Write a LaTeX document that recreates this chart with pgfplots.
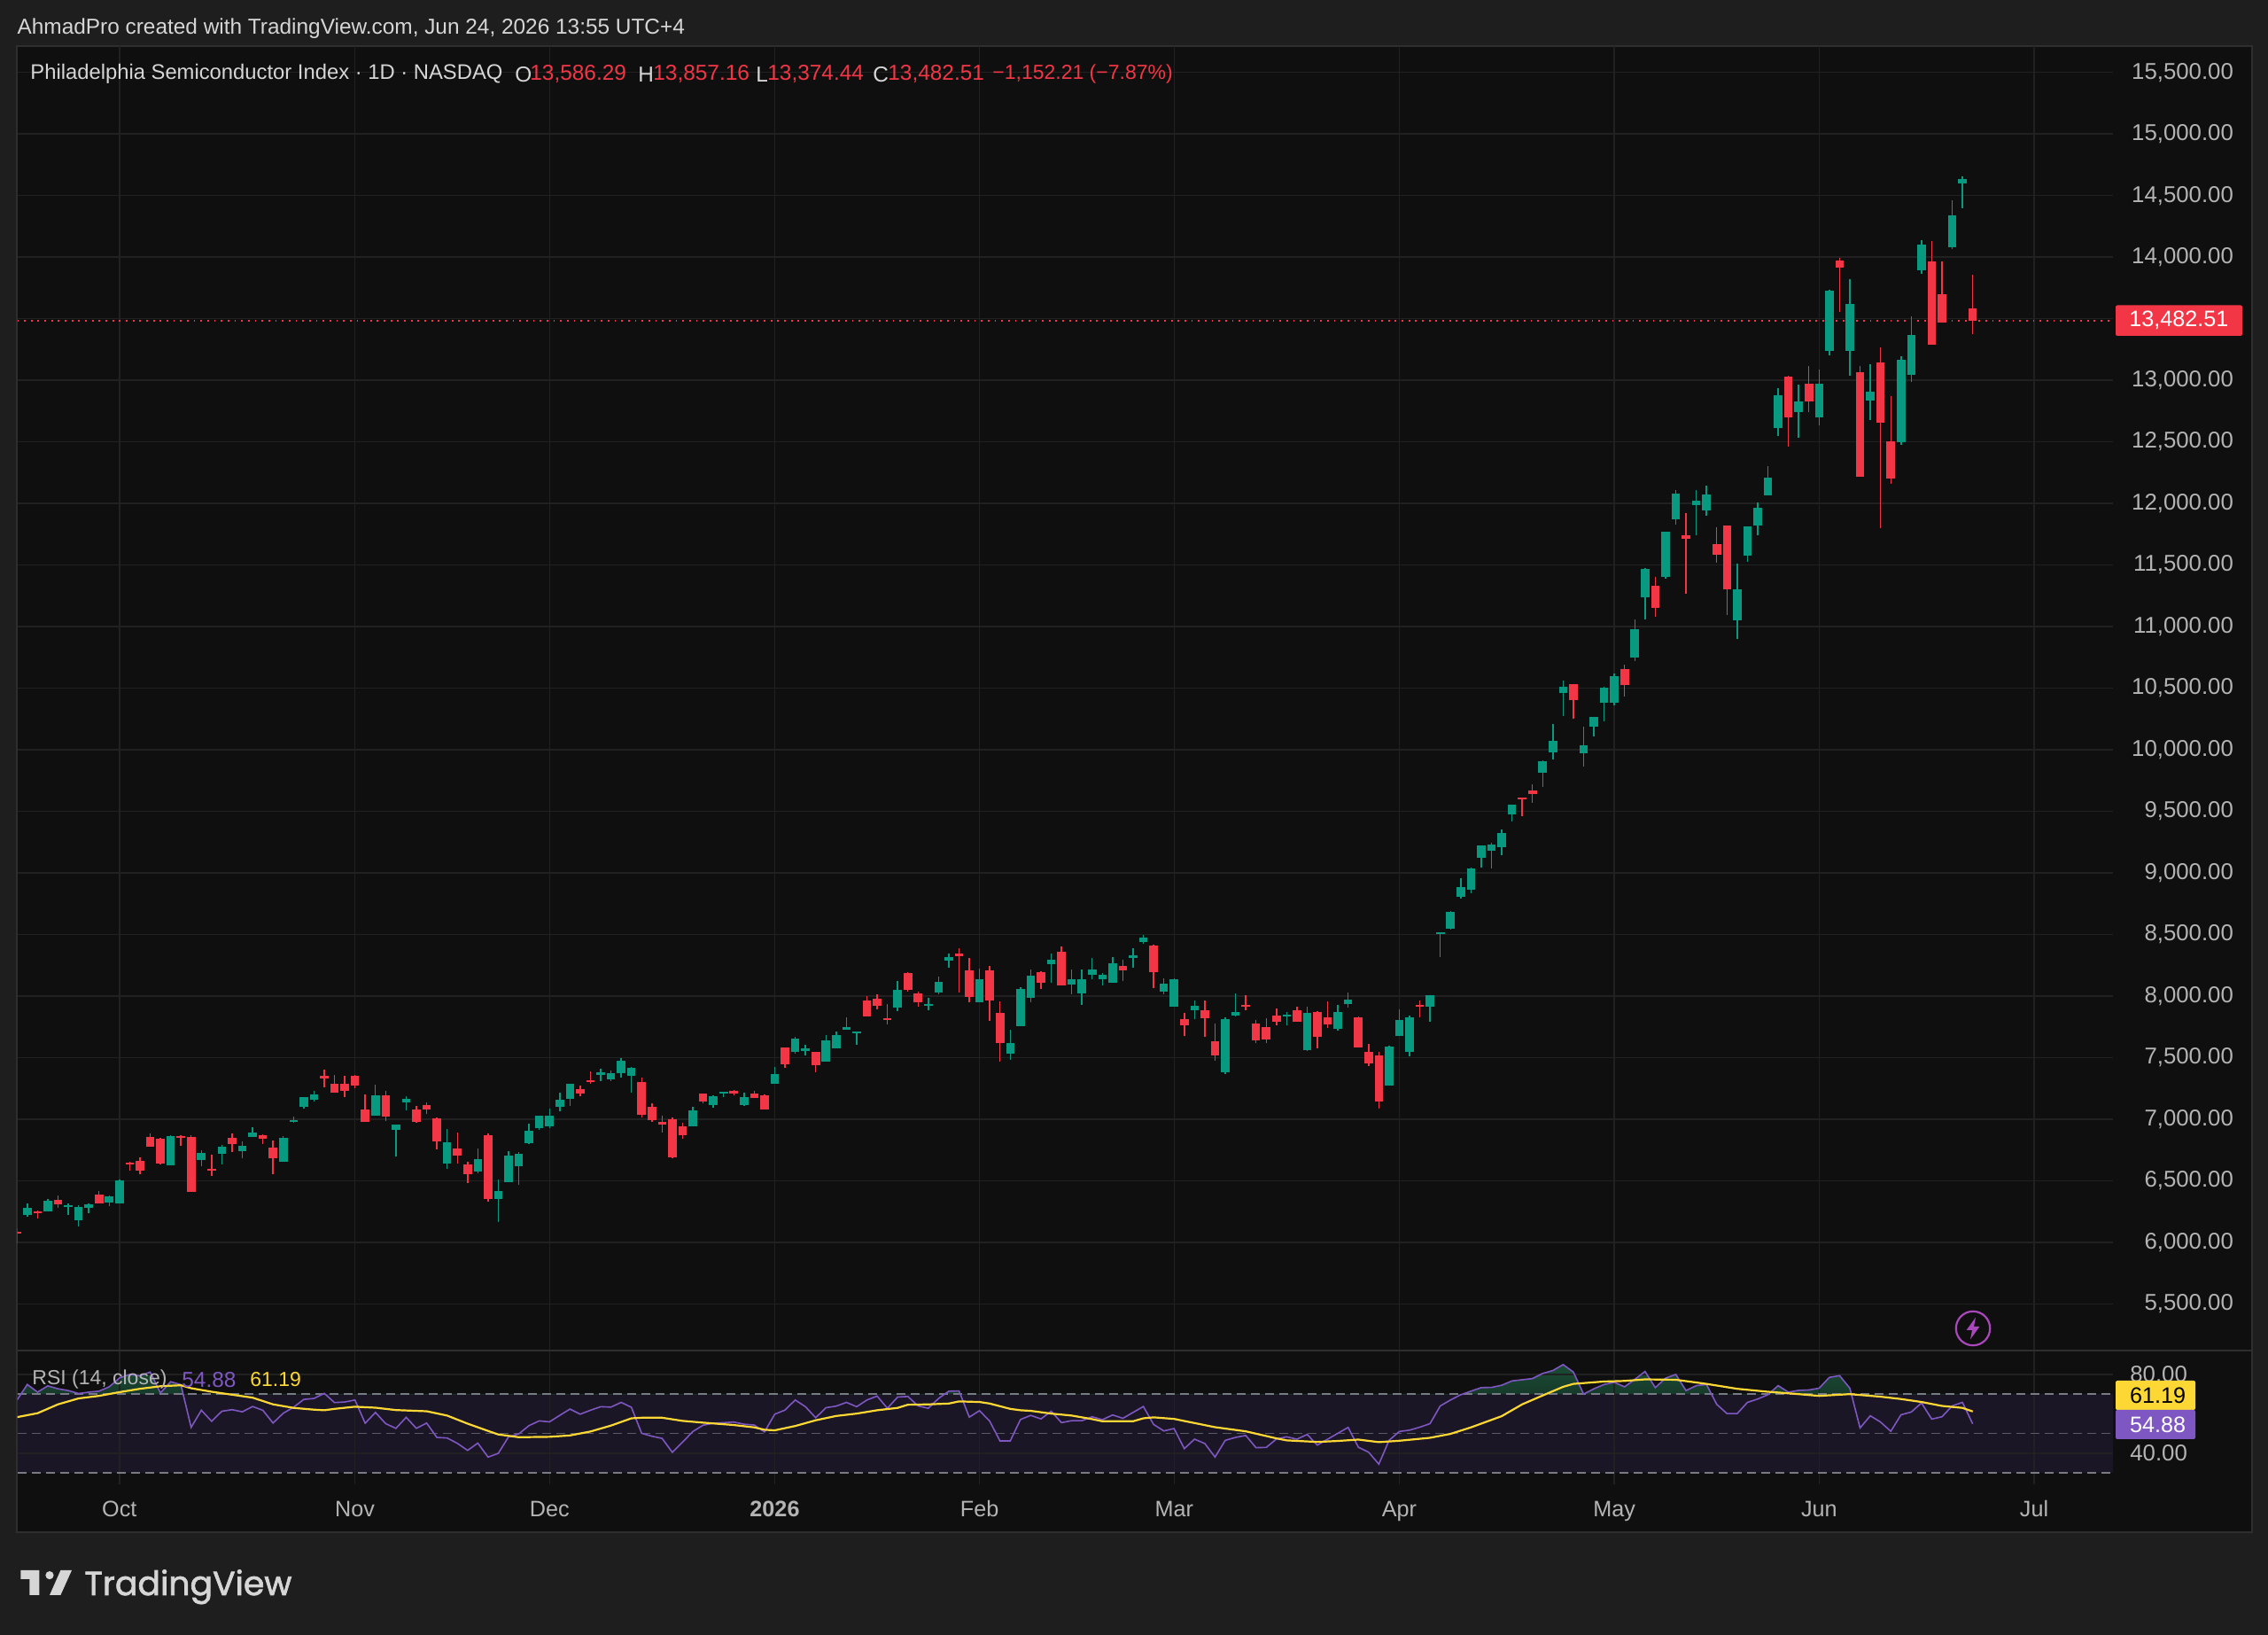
\documentclass[border=0pt]{standalone}
\usepackage{pgfplots}
\usepackage{fontspec}
\pgfplotsset{compat=1.18}
\usepackage{pgfplotstable}
\setmainfont{Liberation Sans}
\newfontfamily\logofont[FakeBold=1.8]{Poppins}
\definecolor{pagebg}{HTML}{1E1E1E}
\definecolor{panelbg}{HTML}{0F0F0F}
\definecolor{gridc}{HTML}{212121}
\definecolor{borderc}{HTML}{2E2E2E}
\definecolor{tvgreen}{HTML}{089981}
\definecolor{tvred}{HTML}{F23645}
\definecolor{rsip}{HTML}{7E57C2}
\definecolor{rsiy}{HTML}{FDD835}
\definecolor{bandc}{HTML}{1A1625}
\definecolor{dashc}{HTML}{787B86}
\definecolor{labc}{HTML}{B4B4B4}
\definecolor{headc}{HTML}{D6D6D6}
\definecolor{boltc}{HTML}{AB47BC}
\definecolor{obtop}{HTML}{1A4C35}
\pgfplotstableread{
x l b t h
1 6210 6222 6282 6318
3 6250 6250 6337 6349
5 6222 6284 6301 6318
6 6130 6181 6289 6301
7 6234 6277 6308 6318
9 6296 6325 6370 6378
10 6318 6318 6502 6507
15 6625 6625 6865 6869
18 6618 6666 6726 6745
20 6636 6721 6774 6788
22 6680 6743 6781 6817
23 6858 6858 6894 6937
26 6651 6651 6850 6862
27 6973 6978 6992 7023
28 7088 7102 7177 7182
29 7145 7155 7198 7232
35 7025 7025 7196 7280
37 6694 6915 6954 6954
38 7074 7138 7162 7184
42 6596 6637 6814 6920
45 6562 6572 6678 6762
47 6166 6354 6414 6510
48 6486 6490 6706 6738
49 6464 6618 6718 6733
50 6795 6805 6906 6961
51 6915 6927 7030 7030
52 6930 6941 7025 7083
53 7066 7100 7158 7217
54 7110 7165 7285 7285
57 7309 7362 7378 7412
58 7309 7323 7376 7393
59 7338 7373 7472 7496
60 7213 7352 7419 7424
66 6942 6942 7069 7100
68 7095 7114 7189 7191
69 7179 7208 7220 7220
71 7110 7117 7182 7213
74 7290 7290 7369 7424
76 7532 7546 7654 7666
77 7520 7551 7578 7606
79 7470 7470 7640 7681
80 7573 7573 7681 7710
81 7724 7724 7750 7827
82 7606 7700 7710 7710
86 7878 7905 8047 8119
89 7883 7924 7938 7984
90 8015 8030 8116 8160
91 8232 8287 8314 8347
94 7953 7953 8138 8220
97 7482 7530 7616 7729
98 7758 7758 8054 8073
99 7953 7987 8165 8215
101 8107 8258 8297 8347
103 8015 8092 8138 8215
104 7931 8023 8138 8215
105 8138 8169 8215 8306
106 8085 8133 8172 8186
107 8107 8107 8263 8314
109 8230 8312 8334 8386
110 8425 8437 8473 8499
112 8014 8034 8103 8144
113 7916 7916 8139 8144
115 7810 7887 7918 7966
118 7369 7383 7810 7825
119 7834 7839 7868 8019
124 7762 7834 7846 7868
126 7551 7558 7866 7914
129 7717 7731 7873 7930
130 7904 7933 7969 8026
134 7273 7273 7587 7597
135 7674 7674 7803 7894
136 7508 7544 7830 7844
138 7791 7911 8005 8005
139 8320 8500 8517 8517
140 8543 8548 8687 8692
141 8793 8808 8887 8957
142 8834 8863 9034 9041
143 9041 9125 9221 9221
144 9036 9180 9233 9248
145 9144 9209 9324 9353
146 9416 9474 9553 9553
149 9695 9813 9909 9914
150 9923 9981 10075 10207
151 10272 10459 10512 10563
153 9861 9974 10034 10188
154 10111 10188 10267 10267
155 10231 10385 10505 10510
156 10361 10382 10596 10620
158 10721 10750 10978 11055
159 11060 11236 11471 11478
161 11389 11401 11774 11774
162 11827 11868 12079 12111
164 11743 11984 12020 12111
165 11897 11945 12074 12142
168 10897 11048 11303 11514
169 11526 11577 11812 11817
170 11743 11820 11964 12005
171 12063 12063 12207 12303
172 12549 12609 12878 12933
174 12535 12741 12828 12962
176 12631 12700 12969 13084
177 13204 13240 13725 13732
179 13039 13240 13619 13821
181 12679 12832 12907 13128
184 12477 12499 13168 13197
185 12986 13046 13370 13519
186 13864 13893 14099 14135
189 14068 14080 14341 14459
190 14397 14600 14634 14653
}\upt
\pgfplotstableread{
x l b t h
0 5989 6072 6085 6114
2 6193 6238 6253 6255
4 6282 6310 6344 6378
8 6318 6318 6385 6414
11 6582 6632 6644 6651
12 6553 6582 6661 6690
13 6776 6776 6855 6884
14 6630 6637 6843 6850
16 6785 6848 6860 6869
17 6409 6409 6857 6869
19 6541 6579 6594 6709
21 6733 6798 6848 6884
24 6798 6838 6869 6877
25 6553 6680 6766 6824
30 7261 7333 7350 7400
31 7213 7213 7285 7357
32 7179 7227 7285 7350
33 7254 7270 7350 7357
34 6977 6977 7076 7198
36 6985 7018 7196 7232
39 6973 6977 7076 7105
40 7040 7081 7112 7134
41 6757 6817 7009 7016
43 6637 6706 6762 6891
44 6483 6553 6630 6656
46 6332 6349 6872 6884
55 7184 7210 7246 7270
56 7290 7304 7318 7386
61 7011 7033 7302 7338
62 6978 6992 7100 7129
63 6894 6958 6980 7026
64 6685 6692 6997 7011
65 6838 6867 6939 6973
67 7129 7143 7208 7208
70 7191 7206 7232 7239
72 7172 7172 7210 7232
73 7081 7081 7191 7198
75 7419 7448 7580 7585
78 7381 7436 7549 7549
83 7835 7835 7965 7999
84 7890 7924 7977 8013
85 7773 7809 7821 7936
87 8035 8049 8186 8191
88 7912 7953 8025 8035
92 8030 8323 8347 8388
93 7953 7994 8205 8311
95 7799 7967 8208 8242
96 7467 7621 7866 7958
100 8056 8107 8191 8201
102 8085 8085 8359 8400
108 8125 8209 8247 8298
111 8065 8194 8408 8420
114 7674 7765 7810 7861
116 7666 7820 7882 7966
117 7474 7515 7630 7777
120 7882 7916 7930 8005
121 7618 7640 7774 7803
122 7618 7645 7748 7818
123 7765 7791 7844 7902
125 7791 7791 7887 7916
127 7575 7669 7868 7880
128 7738 7772 7825 7959
131 7585 7585 7825 7832
132 7431 7453 7549 7609
133 7086 7143 7520 7549
137 7827 7916 7930 7964
147 9459 9599 9611 9611
148 9570 9640 9671 9721
152 10250 10404 10534 10534
157 10430 10529 10656 10688
160 11077 11154 11332 11401
163 11264 11714 11743 11921
166 11519 11584 11671 11810
167 11096 11300 11824 11824
173 12458 12700 13029 13036
175 12741 12825 12974 13113
178 13552 13914 13972 13994
180 12213 12213 13065 13113
182 11801 12652 13142 13267
183 12161 12202 12504 12873
187 13288 13288 13965 14133
188 13468 13468 13696 13967
191 13374.44 13482.51 13586.29 13857.16
}\dnt
\pgfplotstableread{
x y
0 67.0
1 74.9
2 71.0
3 74.2
4 72.7
5 71.8
6 70.3
7 71
8 71.5
9 73.7
10 78.2
11 80
12 79.3
13 81.2
14 70.6
15 76.3
16 74.8
17 53.1
18 61.8
19 56.2
20 61.3
21 62.1
22 61
23 63.7
24 61.8
25 55.3
26 60.3
27 63.3
28 67.3
29 67.8
30 70.4
31 65.7
32 66
33 67
34 55.2
35 60.7
36 55
37 52.6
38 58.2
39 52.6
40 55.3
41 48
42 47.7
43 45
44 41.4
45 45.1
46 38
47 39.9
48 48.3
49 49.8
50 54
51 56.4
52 55.9
53 59.2
54 62.4
55 59.8
56 61.8
57 63.6
58 63.4
59 65.8
60 63.3
61 50.1
62 48.6
63 47.5
64 40.4
65 45.6
66 51
67 54.2
68 55.2
69 55.5
70 55.8
71 54.7
72 54.3
73 50.8
74 59.8
75 61.9
76 67
77 63.6
78 58
79 63.1
80 63.9
81 65.8
82 63.6
83 67
84 69
85 62.8
86 68.5
87 68.8
88 64
89 62.8
90 67.8
91 71.5
92 71.6
93 58.3
94 61.6
95 56.2
96 46.2
97 46.2
98 57.1
99 59.2
100 57.4
101 61.3
102 55.5
103 56.5
104 56.5
105 58.5
106 57
107 59.4
108 57.7
109 60.7
110 63.7
111 54.6
112 51.3
113 52.5
114 42.3
115 47.1
116 44.9
117 38
118 46.5
119 48
120 49
121 42.8
122 42.9
123 47.2
124 48.3
125 47.1
126 49.5
127 44.1
128 47.1
129 50.1
130 53.1
131 43
132 40.5
133 34.4
134 46.5
135 51
136 51.7
137 53.2
138 55
139 64
140 67
141 69.7
142 71.5
143 73.3
144 73.4
145 74.5
146 76.7
147 77.3
148 77.9
149 80.5
150 82
151 85
152 81.2
153 70
154 72.7
155 74.9
156 76
157 73.7
158 77.5
159 81.5
160 73.3
161 78.1
162 80
163 71.8
164 74.3
165 74.9
166 64.8
167 60.1
168 60.1
169 65.8
170 67.5
171 69.7
172 74.3
173 71
174 71.9
175 72.1
176 73
177 78.5
178 79.4
179 73
180 52.8
181 59
182 55.8
183 51.1
184 59.5
185 60.9
186 65.5
187 57.3
188 58.5
189 64
190 65.8
191 54.88
}\rsit
\pgfplotstableread{
x y
0 58.3
2 60.3
4 64.8
6 67.8
8 69.1
10 71
12 72.7
14 74
16 74.5
17 73
19 71.2
21 69.7
23 68.2
25 64.8
27 63
29 62.1
30 61.8
31 62.5
33 63.6
35 63.1
37 61.9
40 61.3
42 59.1
44 55
46 51.3
47 49.5
49 48.1
52 48.3
54 49
56 51
58 54
60 57.7
61 58
63 58
65 56.4
67 55.5
70 54.3
72 53.1
73 51.9
74 51.6
76 53.8
78 56.7
80 58.9
82 60.1
84 61.8
86 63
87 64.6
89 64.8
91 65.2
92 66.3
94 66
95 65.2
97 62.5
98 61.8
99 61.5
101 60.1
103 59.1
105 57.3
106 56.2
109 56.2
110 57.7
111 58.2
113 57.4
115 55.3
117 53.2
120 51.1
123 47.5
124 46.5
127 45.7
129 46.2
131 46.9
133 45.6
135 46.3
138 47.8
140 49.8
142 53.1
145 58.8
147 64.8
149 69.3
151 73.7
152 75.2
155 76.4
157 76.7
159 77.5
162 77.3
165 75.2
168 72.7
171 71.2
174 70
176 69.1
179 70
182 68.7
184 67.5
186 66
188 64
190 63
191 61.19
}\mat
\newcommand{\candles}[2]{%
 \addplot[draw=none,no markers,forget plot,error bars/.cd,y dir=plus,y explicit,error mark=none,error bar style={solid,line width=.72pt,draw=#2}]
  table[x=x,y=l,y error plus expr=\thisrow{h}-\thisrow{l}]{#1};
 \addplot[draw=none,no markers,forget plot,error bars/.cd,y dir=plus,y explicit,error mark=none,error bar style={solid,line width=4.8pt,draw=#2}]
  table[x=x,y=b,y error plus expr=\thisrow{t}-\thisrow{b}]{#1};
}
\begin{document}
\begin{tikzpicture}
\fill[pagebg] (0,0) rectangle (1280pt,922.5pt);
\useasboundingbox (0,0) rectangle (1280pt,922.5pt);
\fill[panelbg] (9.5pt,58pt) rectangle (1271pt,896.5pt);
\draw[borderc,line width=.8pt] (9.5pt,58pt) rectangle (1271pt,896.5pt);
\fill[bandc] (9.75pt,91.5pt) rectangle (1192.5pt,135.85pt);
\begin{axis}[name=main,at={(9.75pt,160.5pt)},anchor=south west,scale only axis,
 width=1182.75pt,height=736pt,xmin=0.02,xmax=204.7,ymin=5121.6,ymax=15714,
 axis line style={draw=none},major tick style={draw=none},
 xtick={10,33,52,74,94,113,135,156,176,197},xticklabels={},
 ytick={5500,6000,6500,7000,7500,8000,8500,9000,9500,10000,10500,11000,11500,12000,12500,13000,14000,14500,15000,15500},
 extra y ticks={13500},extra y tick labels={},extra tick style={grid=major,major tick style={draw=none}},
 grid=major,grid style={gridc,line width=.7pt},
 yticklabel pos=right,scaled y ticks=false,
 /pgf/number format/fixed,/pgf/number format/fixed zerofill,/pgf/number format/precision=2,/pgf/number format/1000 sep={,},/pgf/number format/assume math mode=true,
 yticklabel style={anchor=east,xshift=71.5pt,text=labc,font=\fontsize{12.9}{14}\selectfont},
 ]
\addplot[tvred,line width=.8pt,dash pattern=on .9pt off 2.93pt,forget plot] coordinates {(0.02,13482.51) (204.7,13482.51)};
\candles{\dnt}{tvred}
\candles{\upt}{tvgreen}
\end{axis}
% overbought fill
\begin{axis}[hide axis,at={(9.75pt,135.85pt)},anchor=south west,scale only axis,
 width=1182.75pt,height=24.65pt,xmin=0.02,xmax=204.7,ymin=70,ymax=92.15]
\addplot[draw=none,top color=obtop,bottom color=panelbg] table[x=x,y=y]{\rsit}\closedcycle;
\end{axis}
\begin{axis}[name=rsi,at={(9.75pt,85pt)},anchor=south west,scale only axis,
 width=1182.75pt,height=75.5pt,xmin=0.02,xmax=204.7,ymin=24.16,ymax=92.15,
 axis line style={draw=none},major tick style={draw=none},
 xtick={10,33,52,74,94,113,135,156,176,197},
 xticklabels={Oct,Nov,Dec,\bfseries 2026,Feb,Mar,Apr,May,Jun,Jul},
 xticklabel style={anchor=center,yshift=-15pt,text height=9pt,text depth=2.5pt,text=labc,font=\fontsize{12.6}{14}\selectfont},
 ytick={40,80},grid=major,grid style={gridc,line width=.7pt},
 yticklabel pos=right,
 /pgf/number format/fixed,/pgf/number format/fixed zerofill,/pgf/number format/precision=2,/pgf/number format/assume math mode=true,
 yticklabel style={anchor=east,xshift=45.5pt,text=labc,font=\fontsize{12.9}{14}\selectfont},
 ]
\addplot[dashc,line width=.7pt,dash pattern=on 5pt off 3pt,forget plot] coordinates {(0.02,70) (204.7,70)};
\addplot[dashc!75!black,line width=.6pt,dash pattern=on 5pt off 3pt,forget plot] coordinates {(0.02,50) (204.7,50)};
\addplot[dashc,line width=.7pt,dash pattern=on 5pt off 3pt,forget plot] coordinates {(0.02,30) (204.7,30)};
\addplot[rsip,line width=.8pt,forget plot] table[x=x,y=y]{\rsit};
\addplot[rsiy,line width=1.1pt,forget plot] table[x=x,y=y]{\mat};
\end{axis}
% pane separator
\draw[borderc,line width=1pt] (9.5pt,160.5pt) -- (1271pt,160.5pt);
% header
\node[anchor=west,inner sep=0,text=headc,font=\fontsize{12.2}{14}\selectfont] at (9.6pt,906.5pt) {AhmadPro created with TradingView.com, Jun 24, 2026 13:55 UTC+4};
\def\ly{880.6pt}
\tikzset{lg/.style={anchor=west,inner sep=0,font=\fontsize{12.2}{14}\selectfont},
 lgs/.style={anchor=west,inner sep=0,font=\fontsize{11.5}{14}\selectfont}}
\node[anchor=west,inner sep=0,font=\fontsize{11.9}{14}\selectfont,text=headc] at (17pt,\ly) {Philadelphia Semiconductor Index · 1D · NASDAQ};
\node[lg,text=headc] at (290.5pt,\ly) {O};
\node[lg,text=tvred] at (299pt,\ly) {13,586.29};
\node[lg,text=headc] at (360pt,\ly) {H};
\node[lg,text=tvred] at (368.5pt,\ly) {13,857.16};
\node[lg,text=headc] at (426.5pt,\ly) {L};
\node[lg,text=tvred] at (433pt,\ly) {13,374.44};
\node[lg,text=headc] at (492.5pt,\ly) {C};
\node[lg,text=tvred] at (501pt,\ly) {13,482.51};
\node[lgs,text=tvred] at (560pt,\ly) {−1,152.21 (−7.87\%)};
% RSI legend
\def\ry{144pt}
\node[lgs,text=labc] at (18pt,\ry) {RSI (14, close)};
\node[lg,text=rsip] at (102.5pt,\ry) {54.88};
\node[lgs,text=rsiy] at (141pt,\ry) {61.19};
% price labels
\fill[tvred,rounded corners=1pt] (1194pt,733pt) rectangle (1265.5pt,750.25pt);
\node[inner sep=0,text=white,font=\fontsize{12.6}{14}\selectfont] at (1229.7pt,741.6pt) {13,482.51};
\fill[rsiy,rounded corners=1pt] (1194pt,127pt) rectangle (1239pt,143.5pt);
\node[anchor=east,inner sep=0,text=black,font=\fontsize{12.6}{14}\selectfont] at (1233.75pt,135.25pt) {61.19};
\fill[rsip,rounded corners=1pt] (1194pt,110.5pt) rectangle (1239pt,127pt);
\node[anchor=east,inner sep=0,text=white,font=\fontsize{12.6}{14}\selectfont] at (1233.75pt,118.75pt) {54.88};
% lightning icon
\draw[boltc,line width=1.1pt] (1113.5pt,173pt) circle (9.6pt);
\fill[boltc] (1115pt,179.2pt) -- (1109.8pt,172pt) -- (1113pt,172pt) -- (1112pt,166.8pt) -- (1117.2pt,174pt) -- (1114pt,174pt) -- cycle;
% logo
\fill[headc] (11.7pt,36.5pt) -- (22.2pt,36.5pt) -- (22.2pt,22.5pt) -- (16.7pt,22.5pt) -- (16.7pt,31.5pt) -- (11.7pt,31.5pt) -- cycle;
\fill[headc] (28pt,33.7pt) circle (2.3pt);
\fill[headc] (34.2pt,36.5pt) -- (40.5pt,36.5pt) -- (34.2pt,22.5pt) -- (28pt,22.5pt) -- cycle;
\node[anchor=base west,inner sep=0,text=headc,font=\logofont\fontsize{18.9}{24}\selectfont] at (47.5pt,22.5pt) {TradingView};
\end{tikzpicture}
\end{document}
